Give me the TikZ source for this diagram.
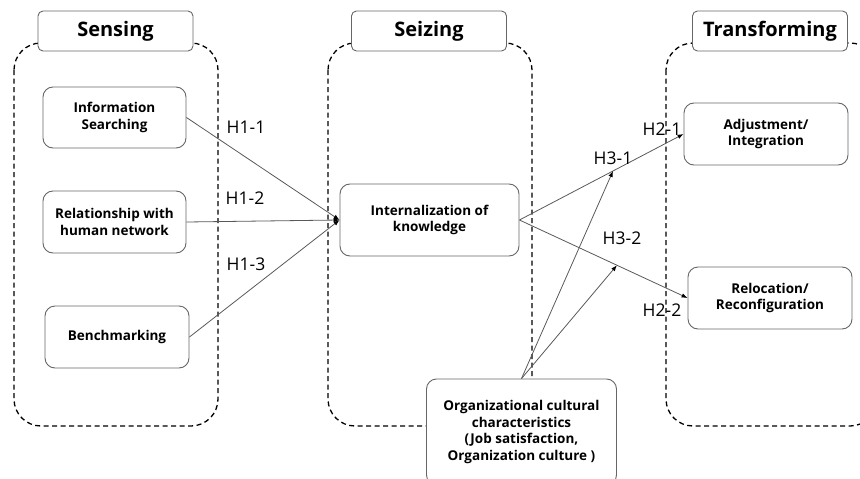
\documentclass[tikz,border=0pt]{standalone}
\usepackage{fontspec}
\setmainfont{Open Sans}
\usetikzlibrary{arrows.meta,calc}
\begin{document}
\begin{tikzpicture}[x=1pt,y=-1pt,
  grp/.style={draw=black, dash pattern=on 5pt off 3.5pt, line width=1.3pt, rounded corners=27pt},
  ttl/.style={draw=black!60, fill=white, rounded corners=5pt, line width=0.9pt, inner sep=0pt,
    minimum width=155pt, minimum height=40pt, font=\bfseries\fontsize{20}{23}\selectfont},
  box/.style={draw=black!60, fill=white, rounded corners=10pt, line width=0.9pt, inner sep=0pt,
    align=center, font=\bfseries\fontsize{13.5}{16.5}\selectfont},
  lbl/.style={font=\fontsize{17.5}{20}\selectfont, inner sep=0pt},
  conn/.style={draw=black!65, line width=0.8pt, -{Latex[length=6pt,width=4.5pt,black]}}
]
\useasboundingbox (0,0) rectangle (860,479);
% groups
\draw[grp] (14,43) rectangle (218,426);
\draw[grp] (328,43) rectangle (532,426);
\draw[grp] (666,43) rectangle (877,426);
% titles
\node[ttl] (tsens) at (115.5,31) {Sensing};
\node[ttl] (tseiz) at (429,31) {Seizing};
\node[ttl] (ttrans) at (770,31) {Transforming};
% nodes
\node[box, minimum width=143pt, minimum height=61pt] (info) at (114.5,117.5) {Information\\Searching};
\node[box, minimum width=143pt, minimum height=62pt] (rel) at (114.5,222) {Relationship with\\human network};
\node[box, minimum width=144pt, minimum height=62pt] (bench) at (117,337) {Benchmarking};
\node[box, minimum width=179pt, minimum height=72pt] (intern) at (429.5,220) {Internalization of\\knowledge};
\node[box, minimum width=164pt, minimum height=62pt] (adjust) at (766,134) {Adjustment/\\Integration};
\node[box, minimum width=164pt, minimum height=62pt] (reloc) at (770,298) {Relocation/\\Reconfiguration};
\node[box, minimum width=190pt, minimum height=106pt] (org) at (521.5,432) {Organizational cultural\\characteristics\\(Job satisfaction,\\Organization culture )};
% connectors
\draw[conn] (info.east) -- (intern.west);
\draw[conn] (rel.east) -- (intern.west);
\draw[conn] (bench.east) -- (intern.west);
\draw[conn] (intern.east) -- (adjust.west);
\draw[conn] (intern.east) -- (reloc.west);
\coordinate (m1) at ($(intern.east)!0.57!(adjust.west)$);
\coordinate (m2) at ($(intern.east)!0.58!(reloc.west)$);
\draw[conn] (org.north) -- (m1);
\draw[conn] (org.north) -- (m2);
% labels
\node[lbl] (h11) at (246,127) {H1-1};
\node[lbl] (h12) at (245,198) {H1-2};
\node[lbl] (h13) at (246,264) {H1-3};
\node[lbl] (h31) at (613,158) {H3-1};
\node[lbl] (h32) at (622,238) {H3-2};
\node[lbl] (h21) at (662,129) {H2-1};
\node[lbl] (h22) at (662,310) {H2-2};
\end{tikzpicture}
\end{document}
